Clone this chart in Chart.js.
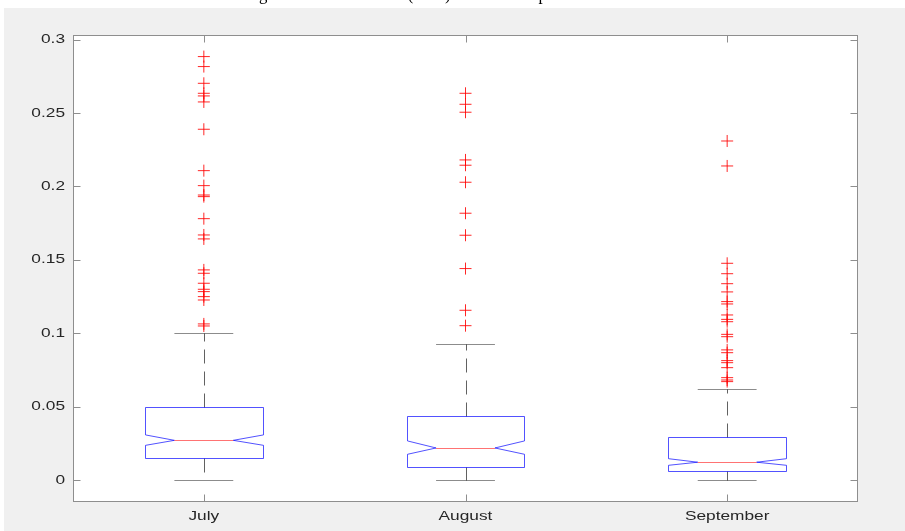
<!DOCTYPE html>
<html>
<head>
<meta charset="utf-8">
<script src="https://cdn.jsdelivr.net/npm/chart.js@4/dist/chart.umd.min.js"></script>
<style>
  html, body { margin: 0; padding: 0; background: #ffffff; overflow: hidden; }
  #wrap { width: 905px; height: 531px; position: relative; }
</style>
</head>
<body>
<div id="wrap"><canvas id="c" width="905" height="531"></canvas></div>
<script>
// ---- data ----
const titleText = 'Log Somatic Cell Count (SCC) in Milk Samples over three months';
const months = ['July', 'August', 'September'];
const yTickValues = [0, 0.05, 0.1, 0.15, 0.2, 0.25, 0.3];
const yTickLabels = ['0', '0.05', '0.1', '0.15', '0.2', '0.25', '0.3'];

// five-number summaries and notch limits per month
const whiskerLow  = [0.0, 0.0, 0.0];
const q1          = [0.0150, 0.0091, 0.0061];
const medians     = [0.0270, 0.0218, 0.0121];
const q3          = [0.0499, 0.0436, 0.0291];
const whiskerHigh = [0.1003, 0.0926, 0.0618];
const notchLow    = [0.0236, 0.0175, 0.0100];
const notchHigh   = [0.0307, 0.0266, 0.0145];

// values beyond the whiskers
const outliersJuly = [0.2884, 0.2816, 0.2702, 0.2634, 0.2616, 0.2575, 0.2389, 0.2107,
  0.2005, 0.1941, 0.1930, 0.1780, 0.1669, 0.1642, 0.1431, 0.1408, 0.1340, 0.1299,
  0.1283, 0.1249, 0.1226, 0.1063, 0.1049];
const outliersAugust = [0.2634, 0.2559, 0.2505, 0.2180, 0.2144, 0.2028, 0.1817, 0.1667,
  0.1440, 0.1156, 0.1051];
const outliersSeptember = [0.2309, 0.2139, 0.1476, 0.1405, 0.1337, 0.1281, 0.1215, 0.1199,
  0.1124, 0.1094, 0.1078, 0.0992, 0.0976, 0.0886, 0.0867, 0.0813, 0.0799, 0.0765,
  0.0697, 0.0681, 0.0670];

// ---- styling ----
const BOX_HALF = 0.225;    // half box width, in category units
const NOTCH_HALF = 0.1125; // half width at the notch waist
const CAP_HALF = 0.1125;   // half whisker-cap width
const LABEL_FONT = '13px "Liberation Sans", Arial, sans-serif';
const LABEL_STRETCH = 1.33;
const TICK_LEN = 7;

function outlierPoints(values, pos) {
  return values.map(v => ({ x: pos, y: v }));
}

const half = v => Math.round(v) + 0.5;

const figurePlugin = {
  id: 'figure',
  beforeDraw(chart) {
    const { ctx, chartArea: a } = chart;
    ctx.save();
    ctx.fillStyle = '#ffffff';
    ctx.fillRect(0, 0, chart.width, chart.height);
    ctx.fillStyle = '#f0f0f0';
    ctx.fillRect(4, 8, chart.width - 4, chart.height - 8);
    ctx.fillStyle = '#ffffff';
    ctx.fillRect(a.left, a.top, a.right - a.left, a.bottom - a.top);

    // title, only its lower edge falls inside the page
    ctx.font = '16px "Liberation Serif", "Times New Roman", serif';
    ctx.fillStyle = '#000000';
    ctx.textBaseline = 'alphabetic';
    const w = ctx.measureText(titleText).width;
    const sx = 450 / w;
    ctx.translate((a.left + a.right) / 2 - 225, 0);
    ctx.scale(sx, 1);
    ctx.fillText(titleText, 0, 0);
    ctx.restore();
  },
  beforeDatasetsDraw(chart) {
    const { ctx, scales: { x, y } } = chart;
    ctx.save();
    ctx.lineWidth = 1;
    months.forEach((m, i) => {
      const c = i + 1;
      const X = v => x.getPixelForValue(v);
      const Y = v => y.getPixelForValue(v);
      const cx = half(X(c));

      // dashed whiskers, drawn outward from the box
      ctx.strokeStyle = 'rgba(0,0,0,0.62)';
      ctx.setLineDash([14, 8]);
      ctx.beginPath();
      ctx.moveTo(cx, half(Y(q3[i])));
      ctx.lineTo(cx, half(Y(whiskerHigh[i])));
      ctx.stroke();
      ctx.beginPath();
      ctx.moveTo(cx, half(Y(q1[i])));
      ctx.lineTo(cx, half(Y(whiskerLow[i])));
      ctx.stroke();
      ctx.setLineDash([]);

      // whisker caps
      ctx.strokeStyle = 'rgba(0,0,0,0.45)';
      [whiskerHigh[i], whiskerLow[i]].forEach(v => {
        const py = half(Y(v));
        ctx.beginPath();
        ctx.moveTo(X(c - CAP_HALF), py);
        ctx.lineTo(X(c + CAP_HALF), py);
        ctx.stroke();
      });

      // notched box
      const L = half(X(c - BOX_HALF)), R = half(X(c + BOX_HALF));
      const nl = X(c - NOTCH_HALF), nr = X(c + NOTCH_HALF);
      ctx.strokeStyle = 'rgba(0,0,255,0.68)';
      ctx.beginPath();
      ctx.moveTo(L, half(Y(q3[i])));
      ctx.lineTo(R, half(Y(q3[i])));
      ctx.lineTo(R, Y(notchHigh[i]));
      ctx.lineTo(nr, Y(medians[i]));
      ctx.lineTo(R, Y(notchLow[i]));
      ctx.lineTo(R, half(Y(q1[i])));
      ctx.lineTo(L, half(Y(q1[i])));
      ctx.lineTo(L, Y(notchLow[i]));
      ctx.lineTo(nl, Y(medians[i]));
      ctx.lineTo(L, Y(notchHigh[i]));
      ctx.closePath();
      ctx.stroke();

      // median
      ctx.strokeStyle = 'rgba(255,0,0,0.55)';
      ctx.beginPath();
      ctx.moveTo(nl, half(Y(medians[i])));
      ctx.lineTo(nr, half(Y(medians[i])));
      ctx.stroke();
    });
    ctx.restore();
  },
  afterDraw(chart) {
    const { ctx, chartArea: a, scales: { x, y } } = chart;
    ctx.save();
    // axes frame
    ctx.strokeStyle = '#8e8e8e';
    ctx.lineWidth = 1;
    const l = half(a.left), r = half(a.right - 1), t = half(a.top), b = half(a.bottom - 1);
    ctx.strokeRect(l, t, r - l, b - t);

    // inward ticks on all four sides
    ctx.beginPath();
    yTickValues.forEach(v => {
      const py = half(y.getPixelForValue(v));
      ctx.moveTo(l, py); ctx.lineTo(l + TICK_LEN, py);
      ctx.moveTo(r, py); ctx.lineTo(r - TICK_LEN, py);
    });
    months.forEach((m, i) => {
      const px = half(x.getPixelForValue(i + 1));
      ctx.moveTo(px, b); ctx.lineTo(px, b - TICK_LEN);
      ctx.moveTo(px, t); ctx.lineTo(px, t + TICK_LEN);
    });
    ctx.stroke();

    // tick labels
    ctx.font = LABEL_FONT;
    ctx.fillStyle = '#262626';
    ctx.textBaseline = 'middle';
    yTickValues.forEach((v, i) => {
      ctx.save();
      ctx.translate(a.left - 8, y.getPixelForValue(v));
      ctx.scale(LABEL_STRETCH, 1);
      ctx.textAlign = 'right';
      ctx.fillText(yTickLabels[i], 0, 0);
      ctx.restore();
    });
    months.forEach((m, i) => {
      ctx.save();
      ctx.translate(x.getPixelForValue(i + 1), a.bottom + 14);
      ctx.scale(LABEL_STRETCH, 1);
      ctx.textAlign = 'center';
      ctx.fillText(m, 0, 0);
      ctx.restore();
    });
    ctx.restore();
  }
};

const outlierStyle = {
  pointStyle: 'cross',
  pointRadius: 6,
  pointHoverRadius: 6,
  pointBorderWidth: 1,
  pointBorderColor: 'rgba(255,0,0,0.85)',
  pointBackgroundColor: 'rgba(255,0,0,0.85)',
  showLine: false
};

new Chart(document.getElementById('c'), {
  type: 'scatter',
  data: {
    datasets: [
      Object.assign({ label: months[0], data: outlierPoints(outliersJuly, 1) }, outlierStyle),
      Object.assign({ label: months[1], data: outlierPoints(outliersAugust, 2) }, outlierStyle),
      Object.assign({ label: months[2], data: outlierPoints(outliersSeptember, 3) }, outlierStyle)
    ]
  },
  options: {
    responsive: false,
    animation: false,
    devicePixelRatio: 1,
    layout: { padding: { left: 0, right: 47, top: 35, bottom: 0 } },
    plugins: { legend: { display: false }, tooltip: { enabled: false }, title: { display: false } },
    scales: {
      x: {
        type: 'linear',
        min: 0.5,
        max: 3.5,
        afterBuildTicks: s => { s.ticks = months.map((m, i) => ({ value: i + 1 })); },
        afterFit: s => { s.height = 29; },
        ticks: { display: false },
        grid: { display: false },
        border: { display: false }
      },
      y: {
        min: -0.015,
        max: 0.3031,
        afterBuildTicks: s => { s.ticks = yTickValues.map(v => ({ value: v })); },
        afterFit: s => { s.width = 73; },
        ticks: { display: false },
        grid: { display: false },
        border: { display: false }
      }
    }
  },
  plugins: [figurePlugin]
});
</script>
</body>
</html>
